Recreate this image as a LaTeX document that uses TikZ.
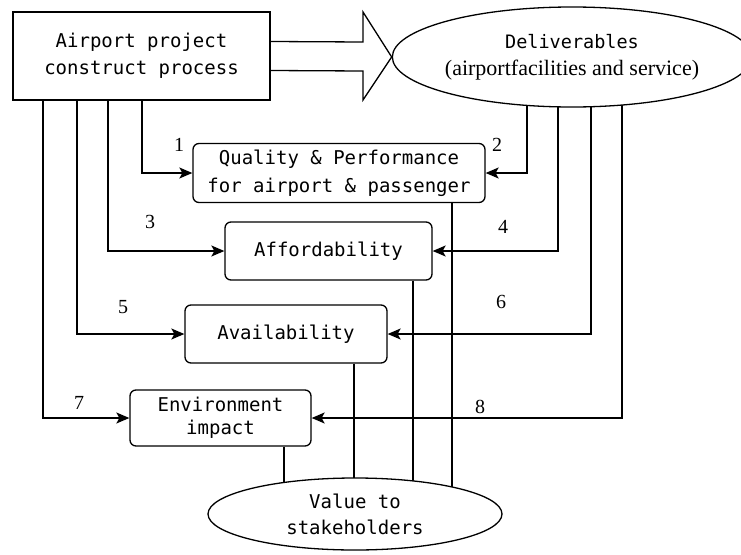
\documentclass[tikz,border=0pt]{standalone}
\usepackage{fontspec}
\setmainfont{Liberation Serif}
\newfontfamily\monof{DejaVu Sans Mono}
\usetikzlibrary{shapes.geometric,arrows.meta,calc}
\pgfdeclarelayer{bg}
\pgfsetlayers{bg,main}
\begin{document}
\begin{tikzpicture}[x=1pt,y=-1pt,line width=1.3pt,
  sqbox/.style={draw,fill=white,inner sep=0pt,align=center,font=\monof\fontsize{19}{27}\selectfont},
  rbox/.style={draw,fill=white,rounded corners=6pt,inner sep=0pt,align=center,font=\monof\fontsize{19}{28}\selectfont},
  oval/.style={draw,fill=white,ellipse,inner sep=0pt,align=center},
  conn/.style={draw,line width=1.3pt},
  arr/.style={conn,-{Stealth[length=13pt,width=11pt,inset=3pt]}},
  num/.style={inner sep=0pt,font=\fontsize{20}{20}\selectfont}]
\useasboundingbox (0,0) rectangle (741,554);
% nodes
\node[sqbox,minimum width=257,minimum height=88] (app) at (141.5,56) {Airport project\\construct process};
\node[oval,minimum width=334,minimum height=100,font=\monof\fontsize{18.5}{27}\selectfont] (dlv) at (572,57)
  {Deliverables\\{\rmfamily\fontsize{22}{27}\selectfont (airportfacilities and service)}};
\node[rbox,minimum width=292,minimum height=59] (qp) at (339,173) {Quality \& Performance\\for airport \& passenger};
\node[rbox,minimum width=207,minimum height=58] (af) at (328.5,251) {Affordability};
\node[rbox,minimum width=202,minimum height=58] (av) at (286,334) {Availability};
\node[rbox,minimum width=181,minimum height=56,font=\monof\fontsize{19}{23}\selectfont] (en) at (220.5,418) {Environment\\impact};
\node[oval,minimum width=294,minimum height=72,font=\monof\fontsize{19}{26}\selectfont] (val) at (355,514) {Value to\\stakeholders};
% labels
\node[num] (n1) at (179,145) {1};
\node[num] (n2) at (497,145) {2};
\node[num] (n3) at (150,222) {3};
\node[num] (n4) at (503,227) {4};
\node[num] (n5) at (123,307) {5};
\node[num] (n6) at (501,302) {6};
\node[num] (n7) at (79,403) {7};
\node[num] (n8) at (480,407) {8};
% helper x positions
\coordinate (x43) at (43,0);
\coordinate (x77) at (77,0);
\coordinate (x108) at (108,0);
\coordinate (x142) at (142,0);
\coordinate (x527) at (527,0);
\coordinate (x558) at (558,0);
\coordinate (x591) at (591,0);
\coordinate (x622) at (622,0);
\coordinate (x284) at (284,0);
\coordinate (x354) at (354,0);
\coordinate (x413) at (413,0);
\coordinate (x452) at (452,0);
\coordinate (ht) at (363,12);
\coordinate (hb) at (363,100);
\begin{pgfonlayer}{bg}
% big arrow
\path[conn,line join=miter] ($(app.east)+(0,-14.5)$) -- ($(ht)+(0,30)$) -- (ht) -- (dlv.west) -- (hb) -- ($(hb)+(0,-29)$) -- ($(app.east)+(0,14.5)$);
% left connectors
\path[arr] (app.south -| x142) |- (qp.west);
\path[arr] (app.south -| x108) |- (af.west);
\path[arr] (app.south -| x77) |- (av.west);
\path[arr] (app.south -| x43) |- (en.west);
% right connectors
\path[arr] (dlv.center -| x527) |- (qp.east);
\path[arr] (dlv.center -| x558) |- (af.east);
\path[arr] (dlv.center -| x591) |- (av.east);
\path[arr] (dlv.center -| x622) |- (en.east);
% to value
\path[conn] (en.south -| x284) -- (val.center -| x284);
\path[conn] (av.south -| x354) -- (val.center -| x354);
\path[conn] (af.south -| x413) -- (val.center -| x413);
\path[conn] (qp.south -| x452) -- (val.center -| x452);
\end{pgfonlayer}
\end{tikzpicture}
\end{document}
